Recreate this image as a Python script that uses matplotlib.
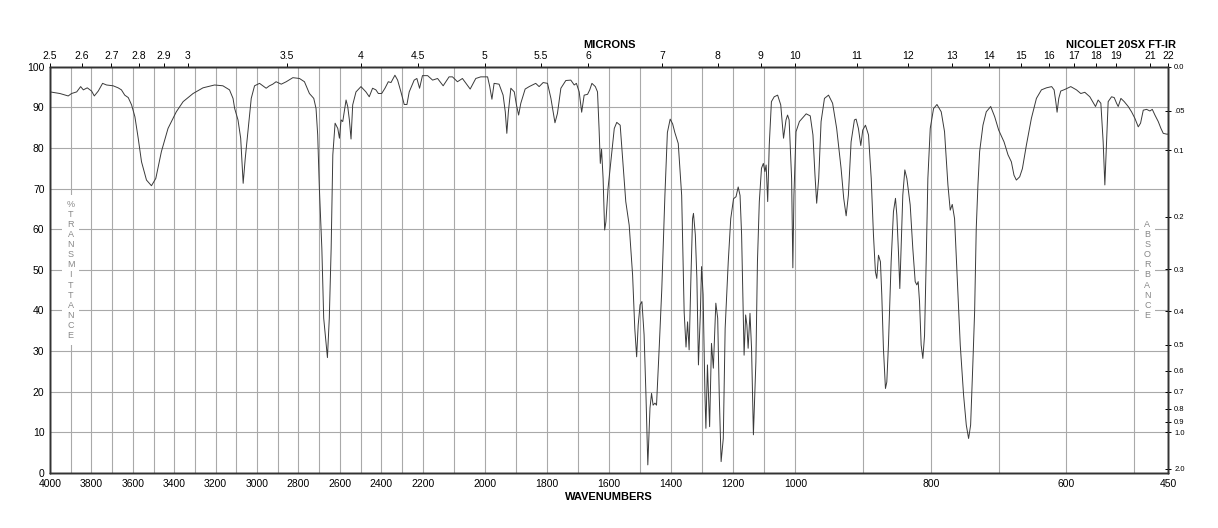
import numpy as np
import matplotlib
matplotlib.use("Agg")
import matplotlib.pyplot as plt

plt.rcParams['font.family'] = ['Liberation Sans', 'DejaVu Sans']

# spectrum (cm-1, %T)
wavenumber = [
    4000, 3952, 3912, 3896, 3871, 3852, 3839, 3820, 3799, 3786, 3767, 3746, 3727, 3695, 3671, 3655,
    3639, 3622, 3606, 3590, 3574, 3558, 3534, 3510, 3489, 3462, 3430, 3390, 3357, 3309, 3261, 3205,
    3165, 3133, 3116, 3108, 3092, 3079, 3067, 3057, 3044, 3028, 3012, 2988, 2972, 2956, 2940, 2924,
    2908, 2883, 2859, 2827, 2795, 2771, 2747, 2726, 2715, 2707, 2699, 2687, 2678, 2666, 2660, 2651,
    2642, 2634, 2623, 2610, 2602, 2594, 2586, 2570, 2562, 2554, 2546, 2538, 2522, 2498, 2474, 2458,
    2442, 2426, 2414, 2398, 2382, 2366, 2353, 2334, 2321, 2305, 2289, 2276, 2265, 2241, 2228, 2215,
    2201, 2184, 2168, 2152, 2134, 2115, 2104, 2088, 2072, 2047, 2029, 2013, 1991, 1984, 1977, 1970,
    1954, 1941, 1934, 1929, 1924, 1916, 1905, 1898, 1891, 1884, 1870, 1857, 1836, 1825, 1812, 1798,
    1787, 1774, 1766, 1755, 1739, 1723, 1712, 1705, 1696, 1688, 1680, 1669, 1662, 1655, 1644, 1637,
    1632, 1628, 1624, 1619, 1614, 1610, 1603, 1594, 1583, 1575, 1564, 1556, 1546, 1535, 1524, 1517,
    1511, 1506, 1500, 1494, 1487, 1481, 1475, 1468, 1463, 1458, 1452, 1447, 1438, 1430, 1420, 1412,
    1403, 1395, 1388, 1377, 1366, 1358, 1352, 1347, 1342, 1336, 1331, 1328, 1322, 1317, 1312, 1306,
    1302, 1297, 1291, 1288, 1283, 1276, 1270, 1264, 1256, 1250, 1245, 1239, 1232, 1226, 1216, 1208,
    1199, 1191, 1184, 1178, 1173, 1169, 1165, 1160, 1156, 1152, 1146, 1141, 1135, 1127, 1122, 1116,
    1109, 1103, 1098, 1094, 1089, 1084, 1077, 1068, 1057, 1047, 1038, 1030, 1025, 1020, 1012, 1008,
    1004.5, 999, 994, 984, 978, 974, 971, 968.5, 965.5, 962, 957, 951, 945, 939, 932.5, 928.6,
    925, 921.7, 917.7, 912.8, 910.3, 906.9, 903.4, 900.5, 896.5, 892, 888, 884.7, 881.8, 879.8, 877.3, 874.4,
    872.4, 870, 867, 865, 862.6, 858.6, 855.2, 852.2, 850.2, 847.8, 845.8, 843.8, 841.4, 838.4, 835.4, 830.5,
    826.6, 823.1, 820.7, 818.7, 816.7, 814.3, 811.8, 809.3, 806.9, 804.4, 800.9, 796, 791, 784.7, 779.8, 774.8,
    771.4, 768.4, 765, 761, 756.6, 751.7, 747.7, 744.3, 741.3, 737.9, 735.4, 733, 730.5, 728, 723.1, 718.2,
    711.7, 705.8, 699.9, 692, 686.1, 681.2, 677.3, 673.8, 668.9, 664.9, 659, 651.6, 644.2, 636.8, 629.4, 621.7,
    618.1, 615.6, 613.7, 611.2, 608.3, 602.3, 593.5, 585.1, 578.7, 572.8, 565.4, 560.5, 557, 553.1, 549.1, 545.7,
    543.2, 540.7, 538.3, 533.3, 529.4, 525.9, 523.5, 519.5, 514.6, 508.7, 503.8, 498.9, 493.9, 490.5, 486.5, 481.6,
    476.7, 473.2, 469.3, 464.4, 460.4, 457, 452, 450,
]
transmittance = [
    93.8, 93.4, 92.8, 93.4, 93.8, 95.1, 94.3, 94.8, 94.0, 92.8, 94.0, 95.9, 95.5, 95.3, 94.8, 94.3,
    93.0, 92.4, 90.6, 87.7, 82.4, 76.6, 72.1, 70.7, 72.5, 79.1, 84.8, 88.9, 91.4, 93.4, 94.8, 95.5,
    95.3, 94.3, 92.2, 89.7, 86.9, 82.4, 71.3, 77.4, 84.0, 92.2, 95.3, 95.9, 95.3, 94.7, 95.3, 95.7,
    96.3, 95.7, 96.3, 97.3, 97.1, 96.3, 93.4, 92.2, 89.7, 83.2, 70.1, 55.3, 38.1, 31.5, 28.4, 38.1,
    55.3, 78.3, 86.1, 84.8, 82.4, 86.9, 86.5, 91.8, 90.2, 86.9, 82.2, 90.6, 93.8, 95.1, 93.8, 92.6,
    94.7, 94.3, 93.4, 93.4, 94.7, 96.3, 96.1, 97.9, 96.7, 93.8, 90.7, 90.7, 93.8, 96.7, 97.1, 94.7,
    97.8, 97.8, 96.7, 97.1, 95.3, 97.5, 97.5, 96.3, 97.1, 94.5, 97.1, 97.5, 97.5, 95.1, 92.0, 95.9,
    95.7, 93.0, 88.9, 83.6, 88.9, 94.7, 93.8, 90.6, 88.1, 91.0, 94.5, 95.1, 95.9, 95.1, 96.1, 95.9,
    92.2, 86.2, 88.5, 94.7, 96.6, 96.7, 95.5, 95.9, 93.8, 88.8, 93.0, 93.2, 94.3, 95.9, 95.1, 93.8,
    84.8, 76.2, 79.7, 72.5, 59.8, 61.8, 70.1, 76.6, 84.8, 86.3, 85.6, 77.4, 66.8, 61.0, 48.7, 35.6,
    28.6, 36.4, 41.4, 42.2, 34.0, 19.2, 2.0, 16.0, 19.6, 16.7, 17.2, 16.7, 31.4, 45.3, 68.3, 83.8,
    87.1, 85.9, 83.8, 81.1, 68.3, 39.6, 31.0, 37.2, 30.3, 48.7, 62.6, 63.9, 58.6, 47.9, 26.6, 38.9,
    50.8, 43.9, 19.2, 11.0, 26.6, 11.4, 31.9, 25.8, 41.8, 38.1, 19.2, 2.8, 8.5, 35.6, 52.0, 62.6,
    67.5, 68.0, 70.4, 68.3, 58.6, 43.9, 29.0, 38.9, 36.4, 30.7, 39.3, 30.7, 9.4, 27.4, 52.0, 66.8,
    75.0, 76.2, 74.2, 75.8, 66.8, 80.7, 91.4, 92.6, 93.0, 90.6, 82.4, 86.9, 88.1, 86.9, 72.5, 50.5,
    68.4, 84.0, 86.5, 88.4, 87.9, 83.2, 73.3, 66.4, 72.5, 86.5, 92.2, 93.0, 91.0, 84.8, 75.0, 67.6,
    63.3, 68.4, 81.5, 86.9, 87.1, 84.8, 80.6, 84.4, 85.6, 83.2, 72.5, 58.6, 49.5, 47.9, 53.6, 52.0,
    43.8, 30.7, 20.8, 22.4, 31.5, 52.0, 64.3, 67.6, 63.5, 54.4, 45.4, 56.1, 68.4, 74.6, 72.5, 66.0,
    55.2, 47.1, 46.3, 47.1, 42.1, 31.5, 28.2, 33.9, 52.0, 72.5, 84.8, 89.7, 90.7, 88.9, 84.0, 70.9,
    64.7, 66.1, 62.6, 47.9, 31.5, 19.2, 11.8, 8.5, 11.8, 27.4, 39.7, 60.2, 70.9, 79.1, 85.6, 88.9,
    90.2, 87.7, 84.4, 81.5, 78.3, 76.6, 73.3, 72.1, 72.9, 74.9, 80.7, 87.3, 92.2, 94.3, 94.8, 95.1,
    94.3, 91.4, 88.8, 92.2, 94.0, 94.4, 95.1, 94.3, 93.4, 93.7, 92.6, 91.2, 90.2, 91.8, 91.0, 81.5,
    70.9, 81.5, 91.4, 92.6, 92.4, 91.0, 90.2, 92.2, 91.4, 90.2, 88.9, 87.3, 85.2, 86.1, 89.3, 89.5,
    89.1, 89.5, 88.1, 86.5, 84.8, 83.6, 83.4, 83.4,
]

wn_ticks = [4000, 3800, 3600, 3400, 3200, 3000, 2800, 2600, 2400, 2200, 2000,
            1800, 1600, 1400, 1200, 1000, 800, 600, 450]
micron_ticks = [2.5, 2.6, 2.7, 2.8, 2.9, 3, 3.5, 4, 4.5, 5, 5.5, 6, 7, 8, 9, 10,
                11, 12, 13, 14, 15, 16, 17, 18, 19, 21, 22]
absorbance_ticks = [0.0, 0.05, 0.1, 0.2, 0.3, 0.4, 0.5, 0.6, 0.7, 0.8, 0.9, 1.0, 2.0]
absorbance_labels = ["0.0", ".05", "0.1", "0.2", "0.3", "0.4", "0.5", "0.6", "0.7",
                     "0.8", "0.9", "1.0", "2.0"]


# chart paper: 4000-2200, 2200-1000 and 1000-450 each take a third of the width
def fwd(w):
    w = np.asarray(w, dtype=float)
    return np.where(w < 1000, (w - 450) / 550,
                    np.where(w < 2200, 1 + (w - 1000) / 1200, 2 + (w - 2200) / 1800))


def inv(p):
    p = np.asarray(p, dtype=float)
    return np.where(p < 1, 450 + p * 550,
                    np.where(p < 2, 1000 + (p - 1) * 1200, 2200 + (p - 2) * 1800))


fig = plt.figure(figsize=(12.18, 5.28), dpi=100)
ax = fig.add_axes([50 / 1218, 1 - 473 / 528, 1118 / 1218, 406.3 / 528])
ax.set_xscale('function', functions=(fwd, inv))
ax.set_xlim(4000, 450)
ax.set_ylim(0, 100)

grid_col = '#a9a9a9'
for w in range(500, 4000, 100):
    ax.axvline(w, color=grid_col, lw=0.8, zorder=1)
for t in range(10, 100, 10):
    ax.axhline(t, color=grid_col, lw=0.8, zorder=1)

ax.plot(wavenumber, transmittance, color='#3a3a3a', lw=0.7, zorder=3)

ax.set_xticks(wn_ticks)
ax.set_xticklabels([str(w) for w in wn_ticks])
ax.set_yticks(range(0, 101, 10))
ax.tick_params(axis='x', length=0, pad=4, labelsize=7.5)
ax.tick_params(axis='y', length=0, pad=4, labelsize=7.5)
ax.minorticks_off()

# microns along the top
top = ax.twiny()
top.set_xscale('function', functions=(fwd, inv))
top.set_xlim(4000, 450)
top.set_xticks([450 if m == 22 else 10000 / m for m in micron_ticks])
top.set_xticklabels([f"{m:g}" for m in micron_ticks])
top.tick_params(axis='x', direction='out', length=3, width=0.7, pad=1, labelsize=7.5)
top.minorticks_off()

# absorbance on the right
right = ax.twinx()
right.set_ylim(0, 100)
right.set_yticks([100 * 10 ** (-a) for a in absorbance_ticks])
right.set_yticklabels(absorbance_labels)
right.tick_params(axis='y', direction='inout', length=5, width=0.7, pad=2, labelsize=5.5)

for a in (ax, top, right):
    for s in a.spines.values():
        s.set_linewidth(1.0)
        s.set_color('#333333')

box = dict(boxstyle='square,pad=0.5', fc='white', ec='none')
ax.text(0.0185, 0.5, "\n".join("%TRANSMITTANCE"), transform=ax.transAxes, ha='center',
        va='center', fontsize=6.5, color='#888888', linespacing=1.16, bbox=box, zorder=4)
ax.text(0.9815, 0.5, "\n".join("ABSORBANCE"), transform=ax.transAxes, ha='center',
        va='center', fontsize=6.5, color='#888888', linespacing=1.16, bbox=box, zorder=4)

fig.text(609 / 1218, 1 - 45 / 528, "MICRONS", ha='center', va='center',
         fontsize=8, fontweight='bold')
fig.text(1121 / 1218, 1 - 45 / 528, "NICOLET 20SX FT-IR", ha='center', va='center',
         fontsize=8, fontweight='bold')
fig.text(609 / 1218, 1 - 497 / 528, "WAVENUMBERS", ha='center', va='center',
         fontsize=8, fontweight='bold')

fig.savefig("out.png", dpi=100)
